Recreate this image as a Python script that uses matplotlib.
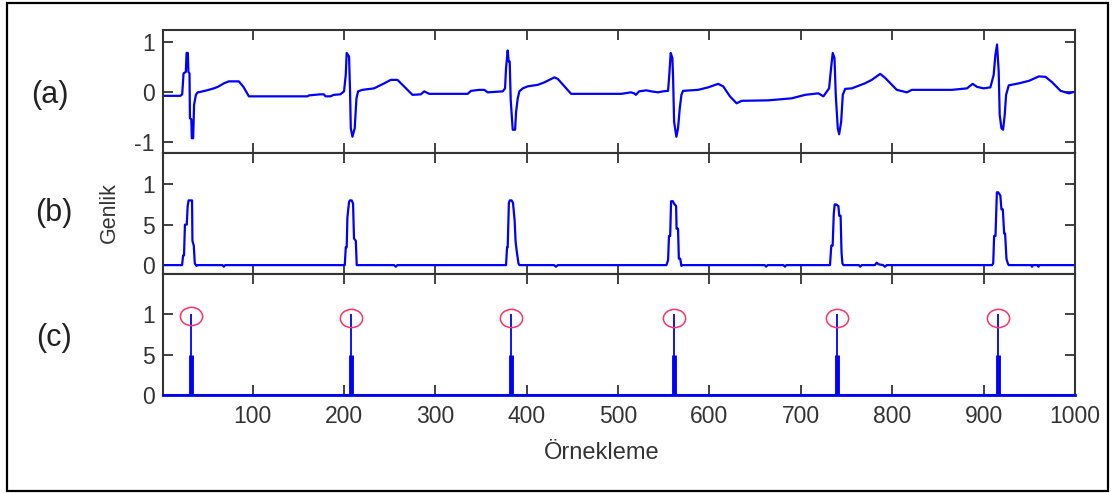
import numpy as np
import matplotlib
matplotlib.use('Agg')
import matplotlib.pyplot as plt
from matplotlib.patches import Rectangle
from matplotlib.path import Path
from matplotlib.transforms import Affine2D

plt.rcParams['font.family'] = ['Liberation Sans', 'DejaVu Sans']

##### data (polyline vertices: sample index, amplitude) #####

# (a) raw ECG
ecg_x = [1, 21, 23, 24.5, 27, 27.8, 29.2, 29.8, 31, 31.5, 33, 33.5, 35, 36, 38, 40, 43, 50, 57.6,
         62, 68.6, 74, 85, 90, 96, 160, 162, 174, 178, 180, 185, 189, 196,
         200.1, 202, 203, 205.6, 206.7, 207.5, 209.3, 211.8, 213.7, 215.5, 220.2, 233, 244, 251.3,
         258.6, 267.8, 275, 284.2, 287.8, 293.3, 335.4, 339, 348.2, 353.6, 357.3, 373.8,
         376.3, 377.4, 379.2, 380.3, 381.4, 382.5, 384.7, 387.3, 388.4, 390.2, 392, 395.7, 401.1,
         412, 419.3, 430.3, 434, 441.3, 448.6, 503.5,
         514, 517.6, 519.5, 523, 530.9, 536.4, 543.7, 549.2, 554.7, 555.8, 557.6, 559.4, 560.2,
         561.3, 563.8, 565.6, 567.5, 569.3, 571.1, 587.6, 598.6, 609.5, 615, 622.4, 629.7, 635.2,
         664.4, 690, 704.6, 719.2, 724.7, 730.9, 733.1, 734.9, 736.8, 738.2, 740.4, 741.9, 744.1,
         745.9, 748.5, 755.8, 770, 777.6, 786.8, 792.2, 795.9, 805, 816, 821.5, 865.3, 881.8,
         888, 892.8, 900, 907.4, 911, 912.9, 914.7, 916.5, 917.6, 919.5, 921.3, 923.1, 924.6,
         927.5, 938.5, 949.5, 960.5, 967.8, 975.1, 984.2, 993.4, 1001]
ecg_y = [-0.08, -0.08, -0.05, 0.37, 0.40, 0.78, 0.78, 0.40, 0.37, -0.53, -0.55, -0.93, -0.93, -0.26,
         -0.06, -0.01, 0.0, 0.03, 0.07, 0.10, 0.17, 0.21, 0.21, 0.10, -0.09, -0.09, -0.07, -0.05,
         -0.05, -0.09, -0.09, -0.06, -0.05,
         0.01, 0.34, 0.78, 0.71, 0.01, -0.73, -0.90, -0.73, -0.13, 0.01, 0.04, 0.07, 0.17, 0.24,
         0.24, 0.07, -0.06, -0.05, 0.01, -0.04, -0.04, 0.02, 0.04, 0.04, -0.01, 0.01,
         0.07, 0.48, 0.83, 0.61, 0.61, -0.16, -0.76, -0.76, -0.40, -0.13, 0.01, 0.07, 0.11,
         0.14, 0.19, 0.29, 0.26, 0.11, -0.04, -0.04,
         -0.01, -0.03, -0.06, 0.01, 0.03, 0.01, -0.01, 0.01, 0.02, 0.28, 0.78, 0.68, 0.28,
         -0.60, -0.90, -0.73, -0.33, -0.06, 0.02, 0.04, 0.09, 0.16, 0.11, -0.09, -0.23, -0.18,
         -0.17, -0.13, -0.06, -0.03, -0.09, 0.07, 0.48, 0.78, 0.68, -0.06, -0.73, -0.85, -0.60,
         -0.06, 0.06, 0.07, 0.17, 0.24, 0.36, 0.28, 0.21, 0.04, -0.01, 0.04, 0.04, 0.07,
         0.16, 0.10, 0.07, 0.09, 0.34, 0.74, 0.95, 0.41, -0.46, -0.73, -0.76, -0.46, -0.06,
         0.13, 0.17, 0.22, 0.31, 0.30, 0.19, 0.02, -0.03, 0.01]

# (b) processed signal
env_x = [1, 22.9, 24, 25, 26, 28, 29, 30, 33.8, 34.2, 35.7, 36.8, 38.6, 40, 67, 68.6, 70,
         200.9, 202, 203, 203.8, 205.6, 206.5, 208.5, 210, 211, 213, 214, 255, 256.8, 258.5,
         377.4, 378.5, 379.2, 380.5, 381.5, 383.5, 385, 386.8, 387.8, 389, 391, 392, 430, 432, 434,
         552.9, 554.7, 555.7, 557, 558, 560, 561.2, 563.5, 564, 565.6, 566.5, 568, 569.3, 570,
         660.5, 662, 663.5, 681, 682.6, 684,
         731.9, 733.3, 734.8, 736, 737, 738.6, 741.1, 742, 743.5, 744.5, 745.5, 746.6, 763.5, 765,
         766.5, 781, 783, 785, 790, 792, 794,
         909.2, 910.5, 911.5, 913, 914.5, 916, 918.3, 919.5, 921, 922.5, 923.5, 925, 926.5, 927.5,
         952, 953, 954, 959, 960, 961, 1001]
env_y = [0, 0, 0.12, 0.12, 0.50, 0.50, 0.73, 0.80, 0.80, 0.30, 0.24, 0.02, -0.01, 0, 0, -0.02, 0,
         0, 0.22, 0.22, 0.59, 0.78, 0.80, 0.80, 0.76, 0.33, 0.30, 0, 0, -0.02, 0,
         0, 0.22, 0.22, 0.77, 0.80, 0.80, 0.77, 0.55, 0.30, 0.18, 0.02, 0, 0, -0.02, 0,
         0, 0.06, 0.36, 0.36, 0.79, 0.79, 0.76, 0.73, 0.45, 0.45, 0.08, 0.08, -0.01, 0,
         0, -0.02, 0, 0, -0.02, 0,
         0, 0.24, 0.24, 0.63, 0.75, 0.75, 0.73, 0.61, 0.61, 0.16, 0.02, 0, 0, -0.02,
         0, 0, 0.03, 0.01, 0, -0.02, 0,
         0, 0.02, 0.36, 0.36, 0.90, 0.90, 0.86, 0.69, 0.69, 0.39, 0.39, 0.08, 0.02, 0,
         0, -0.02, 0, 0, -0.02, 0, 0]

# (c) detected R peaks
peak_x = [33, 208, 383, 561, 740, 916]
peak_top = [1.0, 1.0, 1.0, 1.0, 1.0, 1.0]
peak_half = [0.5, 0.5, 0.5, 0.5, 0.5, 0.5]
circle_y = [0.98, 0.95, 0.96, 0.96, 0.95, 0.95]

xticks = [100, 200, 300, 400, 500, 600, 700, 800, 900, 1000]

BLUE = '#0000ff'
DARK = '#333333'

W, H = 1114, 493
fig = plt.figure(figsize=(W / 100, H / 100), dpi=100)

def px_box(x0, y_top, x1, y_bot):
    return [x0 / W, 1 - y_bot / H, (x1 - x0) / W, (y_bot - y_top) / H]

ax_a = fig.add_axes(px_box(163, 30, 1075, 152.7))
ax_b = fig.add_axes(px_box(163, 152.7, 1075, 274))
ax_c = fig.add_axes(px_box(163, 274, 1075, 395))

for ax in (ax_a, ax_b, ax_c):
    ax.set_xlim(2, 1000)
    ax.set_xticks(xticks)
    ax.tick_params(direction='in', top=True, right=True, length=7, width=1.3,
                   color=DARK, labelcolor=DARK, labelsize=16.5)
    ax.tick_params(axis='y', pad=6)
    ax.tick_params(axis='x', pad=7.5)
    for s in ax.spines.values():
        s.set_color(DARK); s.set_linewidth(1.5)
    if ax is not ax_c:
        ax.tick_params(labelbottom=False)

ax_a.plot(ecg_x, ecg_y, color=BLUE, lw=1.6)
ax_a.set_ylim(-1.22, 1.24)
ax_a.set_yticks([-1, 0, 1]); ax_a.set_yticklabels(['-1', '0', '1'])

ax_b.plot(env_x, env_y, color=BLUE, lw=1.6)
ax_b.set_ylim(-0.11, 1.39)
ax_b.set_yticks([0, 0.5, 1]); ax_b.set_yticklabels(['0', '5', '1'])

ax_c.axhline(0, color=BLUE, lw=2, clip_on=False, zorder=3)
ax_c.vlines(peak_x, 0, peak_top, color=BLUE, lw=1.3)
ax_c.vlines(peak_x, 0, peak_half, color=BLUE, lw=3.5)
oval = Path.unit_circle().transformed(Affine2D().scale(1, 0.82))
ax_c.plot(peak_x, circle_y, ls='none', marker=oval, ms=16, mfc='none', mec='#ff3366', mew=1.1)
ax_c.set_ylim(0, 1.5)
ax_c.set_yticks([0, 0.5, 1]); ax_c.set_yticklabels(['0', '5', '1'])

fig.text(50 / W, 1 - 95 / H, '(a)', fontsize=22, color='#222222', ha='center', va='center')
fig.text(54 / W, 1 - 213 / H, '(b)', fontsize=22, color='#222222', ha='center', va='center')
fig.text(54 / W, 1 - 338 / H, '(c)', fontsize=22, color='#222222', ha='center', va='center')
fig.text(109 / W, 1 - 213 / H, 'Genlik', fontsize=15.5, color=DARK, rotation=90, ha='center', va='center')
fig.text(602 / W, 1 - 453 / H, 'Örnekleme', fontsize=17, color=DARK, ha='center', va='center')

fig.add_artist(Rectangle((7 / W, 1 - 490.5 / H), 1101 / W, 487.8 / H, transform=fig.transFigure,
                         fill=False, ec='black', lw=1.6))

fig.savefig('out.png', dpi=100)
